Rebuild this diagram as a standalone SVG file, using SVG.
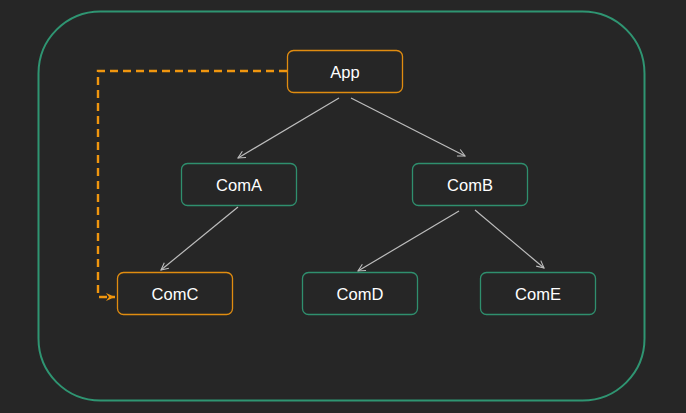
<svg xmlns="http://www.w3.org/2000/svg" width="686" height="413" viewBox="0 0 686 413">
<style>
.n rect{fill:#262626;stroke:#2f8f6e;stroke-width:1.3}
.n.o rect{stroke:#e08c10}
.n text{fill:#ffffff;font-family:"Liberation Sans",Arial,sans-serif;font-size:16.5px;text-anchor:middle;dominant-baseline:central}
.e{stroke:#bdbdbd;stroke-width:1.2;fill:none;marker-end:url(#ah)}
</style>
<defs>
<marker id="ah" viewBox="0 0 10 10" refX="9" refY="5" markerWidth="9" markerHeight="9" orient="auto" markerUnits="userSpaceOnUse"><path d="M1,1 L9,5 L1,9" fill="none" stroke="#bdbdbd" stroke-width="1.2"/></marker>
<marker id="oh" viewBox="0 0 10 10" refX="9" refY="5" markerWidth="10" markerHeight="10" orient="auto" markerUnits="userSpaceOnUse"><path d="M0,1 L9,5 L0,9 L3,5 Z" fill="#f0960f"/></marker>
</defs>
<rect width="686" height="413" fill="#262626"/>
<rect id="frame" x="38.5" y="11.5" width="606" height="389" rx="62" fill="none" stroke="#2f9572" stroke-width="2"/>
<g id="connectors">
<path class="e" d="M339,98 L238,158"/>
<path class="e" d="M351,98 L465,156"/>
<path class="e" d="M238,207 L161,270"/>
<path class="e" d="M459,211 L358,271"/>
<path class="e" d="M475,210 L544,268"/>
<path d="M287,71 L98,71 L98,297 L115,297" fill="none" stroke="#f0960f" stroke-width="2.4" stroke-dasharray="8,5" marker-end="url(#oh)"/>
</g>
<g id="App" class="n o"><rect x="287.5" y="50.5" width="115" height="42" rx="6"/><text x="345" y="72">App</text></g>
<g id="ComA" class="n"><rect x="181.5" y="163.5" width="115" height="42" rx="6"/><text x="239" y="185">ComA</text></g>
<g id="ComB" class="n"><rect x="412.5" y="163.5" width="115" height="42" rx="6"/><text x="470" y="185">ComB</text></g>
<g id="ComC" class="n o"><rect x="117.5" y="272.5" width="115" height="42" rx="6"/><text x="175" y="294">ComC</text></g>
<g id="ComD" class="n"><rect x="302.5" y="272.5" width="115" height="42" rx="6"/><text x="360" y="294">ComD</text></g>
<g id="ComE" class="n"><rect x="480.5" y="272.5" width="115" height="42" rx="6"/><text x="538" y="294">ComE</text></g>
</svg>
